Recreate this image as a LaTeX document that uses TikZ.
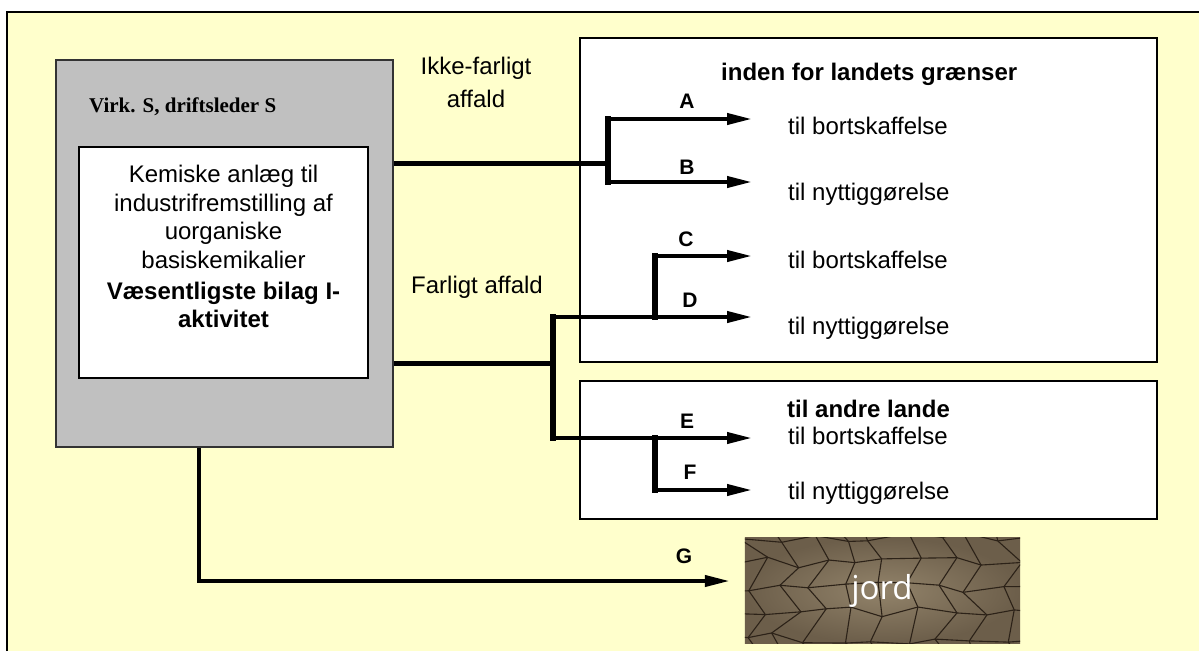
\documentclass[tikz,border=0pt]{standalone}
\usepackage{fontspec}
\setmainfont{Liberation Sans}
\newfontfamily\virkfont{Liberation Serif}
\newfontfamily\jordfont{Open Sans}
\usetikzlibrary{calc,arrows.meta}
\definecolor{bgyellow}{RGB}{255,255,204}
\definecolor{boxgray}{RGB}{192,192,192}
\definecolor{soildark}{RGB}{108,94,74}
\definecolor{soillight}{RGB}{146,131,106}
\definecolor{crackbrown}{RGB}{44,34,24}

\begin{document}
\begin{tikzpicture}[x=1pt,y=-1pt,
  txt/.style={font=\fontsize{24}{28.5}\selectfont,inner sep=0},
  hdr/.style={font=\fontsize{24}{28.5}\selectfont\bfseries,inner sep=0},
  lbl/.style={font=\fontsize{21}{24}\selectfont\bfseries,inner sep=0,anchor=base},
  panel/.style={draw=black,line width=2pt,fill=white,inner sep=0},
  trunk/.style={line width=5pt},
  fork/.style={line width=5.5pt,line cap=rect},
  flow/.style={line width=4pt,-{Triangle[length=25pt,width=11pt]},shorten >=36pt},
  crack/.style={draw=crackbrown,line width=1.1pt,line join=round}]
\useasboundingbox (0,0) rectangle (1199,651);
\fill[white] (0,0) rectangle (1199,651);
\fill[bgyellow] (7,12) rectangle (1199,651);
\draw[line width=2pt] (7,651) -- (7,12) -- (1199,12);

\node[draw=black!80,line width=2pt,fill=boxgray,minimum width=337pt,minimum height=387pt,inner sep=0] (firm) at (224.5,253.5) {};
\node[anchor=base west,inner sep=0,font=\virkfont\bfseries\fontsize{21}{24}\selectfont] (virk) at (89,112) {Virk. S, driftsleder S};
\node[panel,minimum width=289pt,minimum height=231pt] (plant) at (223.5,262.5) {};
\node[txt,align=center,anchor=north] (planttxt) at (223.5,165) {Kemiske anlæg til\\industrifremstilling af\\uorganiske\\basiskemikalier\\[2.5pt]\textbf{Væsentligste bilag I-}\\\textbf{aktivitet}};

\node[panel,minimum width=577pt,minimum height=324pt] (inland) at (868.5,200) {};
\node[panel,minimum width=577pt,minimum height=138pt] (abroad) at (868.5,450) {};
\node[hdr,anchor=base west] (indenhdr) at (721,80) {inden for landets grænser};
\node[txt,anchor=base west] (bortA) at (788,134) {til bortskaffelse};
\node[txt,anchor=base west] (nytB) at (788,200) {til nyttiggørelse};
\node[txt,anchor=base west] (bortC) at (788,268) {til bortskaffelse};
\node[txt,anchor=base west] (nytD) at (788,334) {til nyttiggørelse};
\node[hdr,anchor=base west] (andrehdr) at (787,417) {til andre lande};
\node[txt,anchor=base west] (bortE) at (788,444) {til bortskaffelse};
\node[txt,anchor=base west] (nytF) at (788,499) {til nyttiggørelse};

\node[txt,anchor=base] (ikke1) at (476,74) {Ikke-farligt};
\node[txt,anchor=base] (ikke2) at (476,107) {affald};
\node[txt,anchor=base] (farlig) at (477,293) {Farligt affald};

\coordinate (jA) at (608,119);
\coordinate (jB) at (608,182);
\coordinate (jAB) at (608,163);
\draw[trunk] (firm.east |- jAB) -- (jAB);
\draw[fork] (jA) -- (jB);
\draw[flow] (jA) -- (jA -| bortA.west);
\draw[flow] (jB) -- (jB -| nytB.west);

\coordinate (jDE) at (553,363);
\coordinate (jD) at (553,317);
\coordinate (jE) at (553,438);
\coordinate (jC) at (655,256);
\coordinate (jF) at (655,490);
\draw[trunk] (firm.east |- jDE) -- (jDE);
\draw[fork] (jD) -- (jE);
\draw[fork] (jC) -- (jC |- jD);
\draw[fork] (jE -| jF) -- (jF);
\draw[flow] (jC) -- (jC -| bortC.west);
\draw[flow] (jD) -- (jD -| nytD.west);
\draw[flow] (jE) -- (jE -| bortE.west);
\draw[flow] (jF) -- (jF -| nytF.west);

\node[lbl] (labA) at (687,108) {A};
\node[lbl] (labB) at (687,174) {B};
\node[lbl] (labC) at (686,246) {C};
\node[lbl] (labD) at (690,307) {D};
\node[lbl] (labE) at (687,428) {E};
\node[lbl] (labF) at (690,479) {F};
\node[lbl] (labG) at (684,563) {G};

\node[minimum width=275pt,minimum height=105pt,inner sep=0] (soil) at (882.5,590.5) {};
\shade[inner color=soillight,outer color=soildark] (soil.north west) rectangle (soil.south east);
\begin{scope}
\clip (soil.north west) rectangle (soil.south east);
\pgfmathsetseed{29}
\foreach \i in {-1,...,9}{\foreach \j in {-1,...,5}{
  \pgfmathsetmacro\cx{745+\i*32+mod(\j,2)*16+rand*8}
  \pgfmathsetmacro\cy{538+\j*25+rand*6}
  \coordinate (c\i-\j) at (\cx,\cy);}}
\foreach \i [count=\n from 0] in {-1,...,8}{\foreach \j in {-1,...,5}{\draw[crack] (c\i-\j) -- (c\n-\j);}}
\foreach \i in {-1,...,9}{\foreach \j [count=\m from 0] in {-1,...,4}{\draw[crack] (c\i-\j) -- (c\i-\m);}}
\end{scope}
\node[text=white,inner sep=0,anchor=base,font=\jordfont\fontsize{33}{36}\selectfont] (jordtxt) at (882,599) {jord};

\coordinate (jG) at (199,581);
\draw[flow,shorten >=15pt] (firm.south -| jG) -- (jG) -- (jG -| soil.west);
\end{tikzpicture}
\end{document}
